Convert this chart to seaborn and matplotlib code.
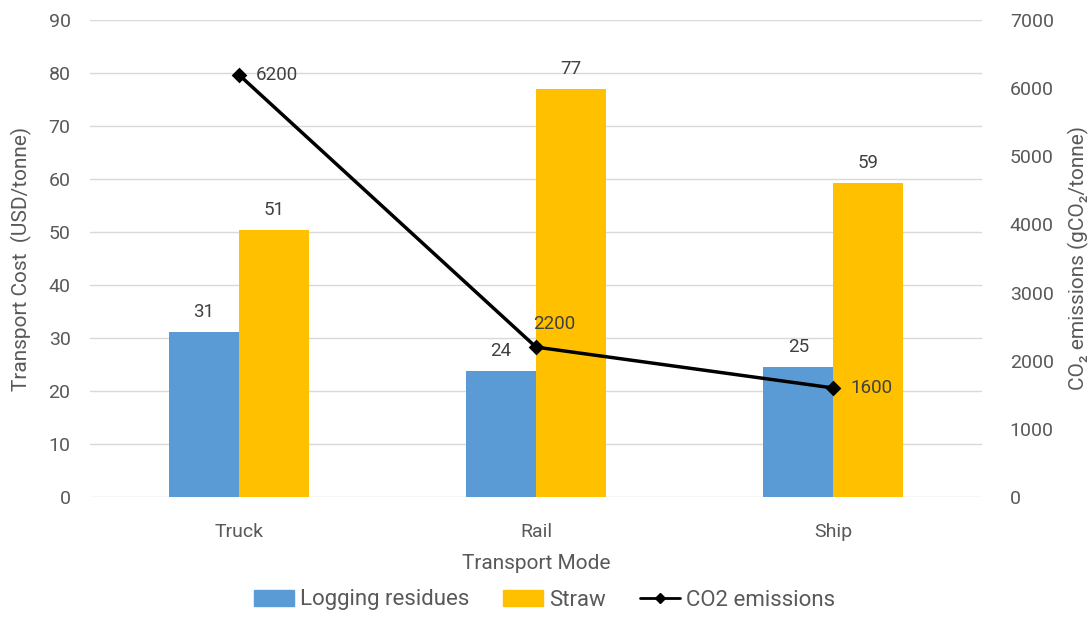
import matplotlib
matplotlib.use("Agg")
import matplotlib.pyplot as plt
import seaborn as sns
import pandas as pd
from matplotlib.patches import Patch
from matplotlib.lines import Line2D

modes = ["Truck", "Rail", "Ship"]
logging_residues = [31.2, 23.8, 24.6]
straw = [50.4, 77.0, 59.2]
co2 = [6200, 2200, 1600]
logging_labels = ["31", "24", "25"]
straw_labels = ["51", "77", "59"]
co2_labels = ["6200", "2200", "1600"]

sns.set_theme(style="white")
plt.rcParams["font.family"] = ["Roboto", "DejaVu Sans"]

TXT = "#595959"
BLUE = "#5B9BD5"
YEL = "#FFC000"

df = pd.DataFrame({
    "mode": modes * 2,
    "cost": logging_residues + straw,
    "type": ["Logging residues"] * 3 + ["Straw"] * 3,
})

fig = plt.figure(figsize=(10.89, 6.17), dpi=100)
ax = fig.add_axes([90 / 1089, 1 - 497 / 617, 892 / 1089, 477 / 617])
sns.barplot(data=df, x="mode", y="cost", hue="type", order=modes,
            hue_order=["Logging residues", "Straw"], palette=[BLUE, YEL],
            width=0.47, gap=0, saturation=1, ax=ax, legend=False, zorder=2,
            linewidth=0, edgecolor="none")
ax.set_xlim(-0.5, 2.5)
ax.set_ylim(0, 90)
ax.set_yticks(range(0, 91, 10))
ax.grid(axis="y", color="#D9D9D9", linewidth=1, zorder=0)
ax.set_axisbelow(True)
for s in ax.spines.values():
    s.set_visible(False)
ax.tick_params(axis="y", length=0, labelsize=14, colors=TXT, pad=14)
ax.tick_params(axis="x", length=0, labelsize=14, colors=TXT, pad=19)
ax.set_xlabel("Transport Mode", fontsize=15, color=TXT, labelpad=9)
ax.set_ylabel("Transport Cost  (USD/tonne)", fontsize=15, color=TXT, labelpad=12)

for cont, labs in zip(ax.containers, [logging_labels, straw_labels]):
    ax.bar_label(cont, labels=labs, padding=8, fontsize=13.5, color="#404040")

ax2 = ax.twinx()
sns.pointplot(x=list(range(3)), y=co2, native_scale=True, color="black",
              markers="D", markersize=6, linewidth=2.5, ax=ax2)
ax2.set_xlim(-0.5, 2.5)
ax2.set_ylim(0, 7000)
ax2.set_yticks(range(0, 7001, 1000))
for s in ax2.spines.values():
    s.set_visible(False)
ax2.tick_params(axis="y", length=0, labelsize=14, colors=TXT, pad=20)
ax2.set_ylabel("CO₂ emissions (gCO₂/tonne)", fontsize=15, color=TXT, labelpad=10)

offsets = [(12, 0, "left", "center"), (-2, 10, "left", "bottom"), (12, 0, "left", "center")]
for i, (v, lab) in enumerate(zip(co2, co2_labels)):
    dx, dy, ha, va = offsets[i]
    ax2.annotate(lab, (i, v), xytext=(dx, dy), textcoords="offset points",
                 ha=ha, va=va, fontsize=13.5, color="#404040")

handles = [Patch(color=BLUE, label="Logging residues"),
           Patch(color=YEL, label="Straw"),
           Line2D([0], [0], color="black", marker="D", markersize=5, linewidth=2, label="CO2 emissions")]
fig.legend(handles=handles, loc="center", bbox_to_anchor=(0.5, 1 - 600 / 617), ncol=3,
           frameon=False, fontsize=16, labelcolor=TXT, handlelength=1.8, handletextpad=0.3,
           columnspacing=1.5)

fig.savefig("out.png", dpi=100)
